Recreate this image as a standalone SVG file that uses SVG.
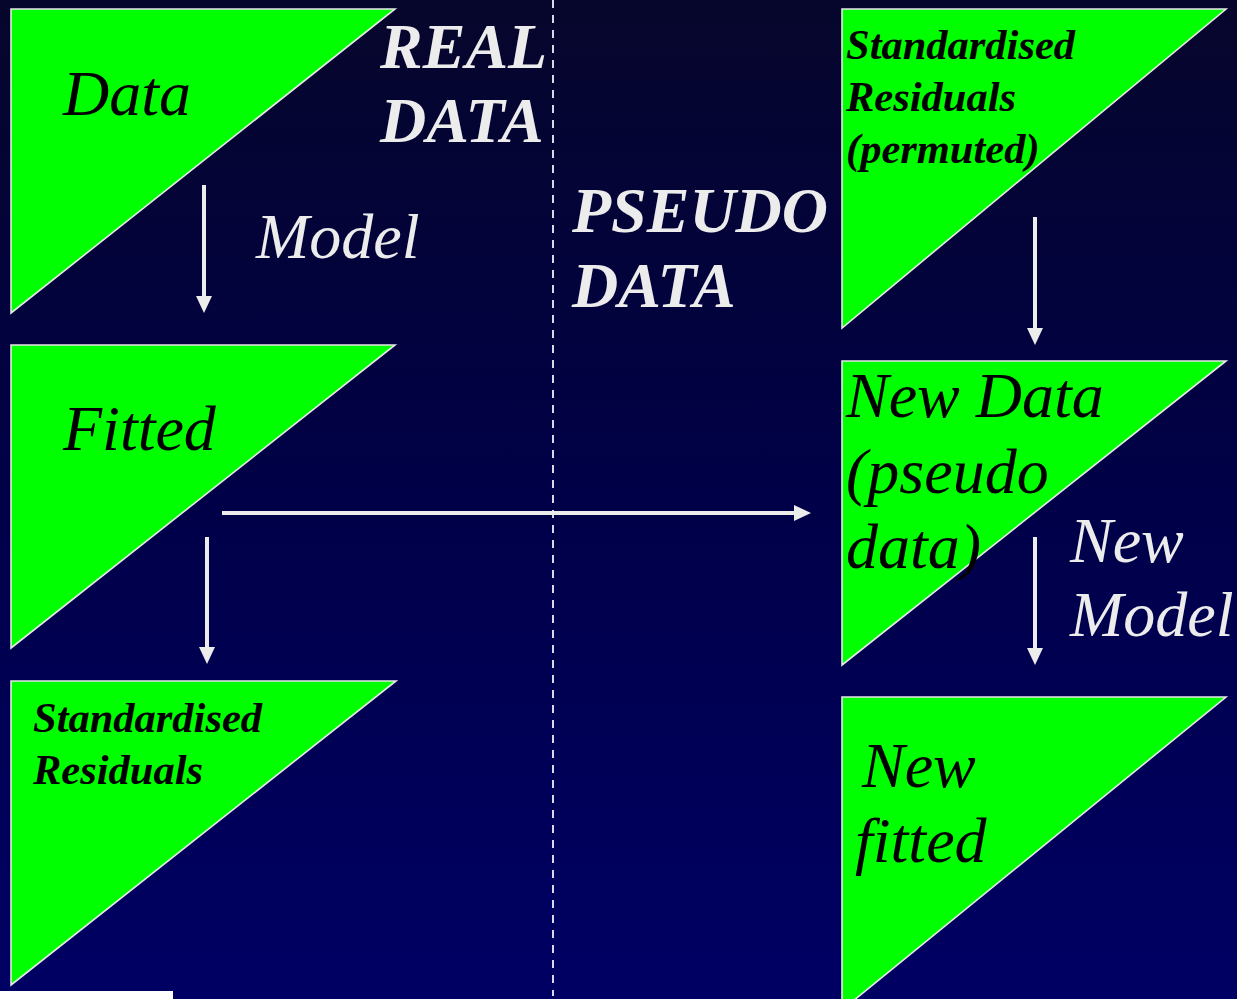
<svg xmlns="http://www.w3.org/2000/svg" width="1237" height="999" viewBox="0 0 1237 999">
  <defs>
    <linearGradient id="bg" x1="0" y1="0" x2="0" y2="1">
      <stop offset="0" stop-color="#06062c"/>
      <stop offset="0.5" stop-color="#000048"/>
      <stop offset="1" stop-color="#000064"/>
    </linearGradient>
    <!-- arrowhead: tip sits 10 units past the end of the line -->
    <marker id="head" viewBox="0 0 17 16" refX="7" refY="8" markerWidth="17" markerHeight="16" markerUnits="userSpaceOnUse" orient="auto">
      <path d="M0,0 L17,8 L0,16 Z" fill="#ececec"/>
    </marker>
    <style>
      .tri { fill: #00ff00; stroke: #e8e8e8; stroke-width: 1.6; }
      .big { font-family: "Liberation Serif", "Times New Roman", serif; font-style: italic; font-size: 64px; }
      .bold { font-weight: bold; }
      .small { font-family: "Liberation Serif", "Times New Roman", serif; font-style: italic; font-weight: bold; font-size: 42.5px; fill: #000; }
      .ink { fill: #000; }
      .light { fill: #ececec; }
      .conn { stroke: #ececec; stroke-width: 4; fill: none; marker-end: url(#head); }
    </style>
  </defs>

  <rect x="0" y="0" width="1237" height="999" fill="url(#bg)"/>

  <!-- divider between real and pseudo data -->
  <line x1="553" y1="0" x2="553" y2="996" stroke="#d8d8e8" stroke-width="2" stroke-dasharray="8 7"/>

  <!-- section headings -->
  <g id="heading-real">
    <text class="big bold light" x="380" y="68">REAL</text>
    <text class="big bold light" x="380" y="142">DATA</text>
  </g>
  <g id="heading-pseudo">
    <text class="big bold light" x="572" y="232">PSEUDO</text>
    <text class="big bold light" x="572" y="307">DATA</text>
  </g>

  <!-- left column -->
  <g id="node-data">
    <polygon class="tri" points="11,9 395,9 11,313"/>
    <text class="big ink" x="63" y="115">Data</text>
  </g>
  <g id="node-fitted">
    <polygon class="tri" points="11,345 395,345 11,648"/>
    <text class="big ink" x="63" y="450">Fitted</text>
  </g>
  <g id="node-std-residuals">
    <polygon class="tri" points="11,681 396,681 11,985"/>
    <text class="small" x="33" y="732">Standardised</text>
    <text class="small" x="33" y="784">Residuals</text>
  </g>

  <!-- right column -->
  <g id="node-std-residuals-permuted">
    <polygon class="tri" points="842,9 1226,9 842,328"/>
    <text class="small" x="846" y="59">Standardised</text>
    <text class="small" x="846" y="111">Residuals</text>
    <text class="small" x="846" y="163">(permuted)</text>
  </g>
  <g id="node-new-data">
    <polygon class="tri" points="842,361 1226,361 842,665"/>
    <text class="big ink" x="846" y="417">New Data</text>
    <text class="big ink" x="846" y="493">(pseudo</text>
    <text class="big ink" x="846" y="568">data)</text>
  </g>
  <g id="node-new-fitted">
    <polygon class="tri" points="842,697 1226,697 842,1010"/>
    <text class="big ink" x="862" y="787">New</text>
    <text class="big ink" x="855" y="862">fitted</text>
  </g>

  <!-- connectors -->
  <g id="connectors">
    <line class="conn" x1="204" y1="185" x2="204" y2="303"/>
    <line class="conn" x1="207" y1="537" x2="207" y2="654"/>
    <line class="conn" x1="222" y1="513" x2="801" y2="513"/>
    <line class="conn" x1="1035" y1="217" x2="1035" y2="335"/>
    <line class="conn" x1="1035" y1="537" x2="1035" y2="655"/>
    <text class="big light" x="256" y="258">Model</text>
    <text class="big light" x="1070" y="562">New</text>
    <text class="big light" x="1070" y="636">Model</text>
  </g>

  <rect x="0" y="991" width="173" height="8" fill="#ffffff"/>
</svg>
